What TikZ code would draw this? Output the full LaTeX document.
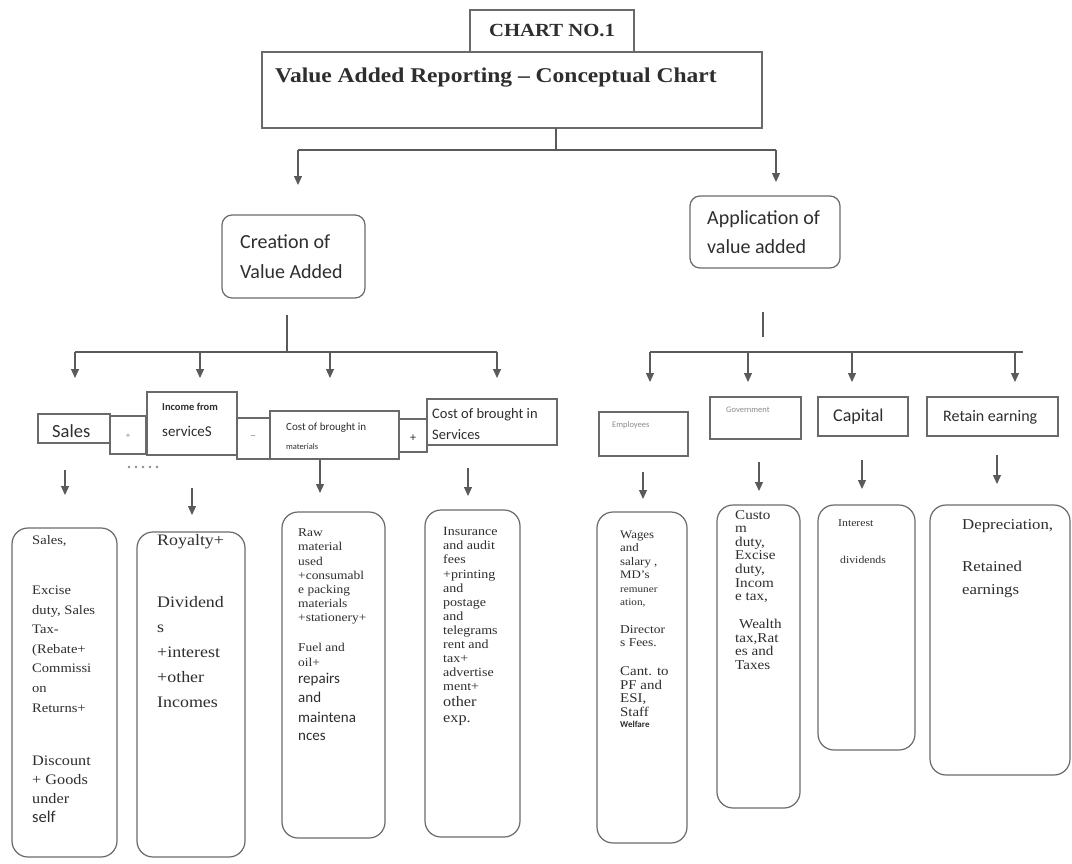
\documentclass[tikz,border=0pt]{standalone}
\usepackage{fontspec}
\setmainfont[FakeStretch=1.12]{Liberation Serif}
\newfontfamily\carl{Carlito}
\usetikzlibrary{arrows.meta}
\newcommand\fsz[2]{\fontsize{#1}{#2}\selectfont}
\definecolor{txt}{HTML}{2E2E2E}
\definecolor{ln}{HTML}{5A5A5A}
\definecolor{bxc}{HTML}{6A6A6A}
\definecolor{faint}{HTML}{8C8C8C}
\newcommand\bx[6]{\node[#1, anchor=north west, minimum width={(#5-#3)*1pt}, minimum height={(#6-#4)*1pt}] (#2) at (#3,#4) {};}
\begin{document}
\begin{tikzpicture}[x=1pt,y=-1pt,
  sq/.style={draw=bxc, line width=1.3pt, inner sep=0, outer sep=0},
  rbox/.style={draw=bxc, line width=1.2pt, rounded corners=16pt, inner sep=0, outer sep=0},
  mbox/.style={draw=bxc, line width=1.2pt, rounded corners=10pt, inner sep=0, outer sep=0},
  tx/.style={anchor=north west, inner sep=0, align=left, text=txt},
  lb/.style={anchor=west, inner sep=0, text=txt},
  conn/.style={draw=ln, line width=1.2pt},
  arr/.style={draw=ln, line width=1.2pt, -{Triangle[width=8pt,length=9pt]}}]
\fill[white] (0,0) rectangle (1072,863);
\useasboundingbox (0,0) rectangle (1072,863);

% ---------- header ----------
\bx{sq}{title}{262}{52}{762}{128}
\bx{sq}{chart}{470}{10}{634}{52}
\node[text=txt, inner sep=0, font=\bfseries\fsz{18.5}{20}] (chartt) at (552,31) {CHART NO.1};
\node[lb, font=\bfseries\fsz{21}{24}] (titlet) at (275,78) {Value Added Reporting \textendash{} Conceptual Chart};

% ---------- level 2 ----------
\bx{mbox}{creation}{222}{215}{365}{298}
\bx{mbox}{application}{690}{196}{840}{268}
\node[tx, font=\carl\fsz{20}{30}] (creationt) at (240,234.5) {Creation of\\Value Added};
\node[tx, font=\carl\fsz{20}{29}] (applicationt) at (707,210.5) {Application of\\value added};

\coordinate (tb) at (556,150);
\coordinate (tl) at (298,150);
\coordinate (tr) at (776,150);
\draw[conn] (title.south -| tb) -- (tb);
\draw[conn] (tl) -- (tr);
\draw[arr, shorten >=30pt] (tl) -- (tl |- creation.north);
\draw[arr, shorten >=14pt] (tr) -- (tr |- application.north);

% ---------- level 3 left ----------
\bx{sq}{sales}{38}{414}{110}{443}
\bx{sq}{plusA}{110}{416}{146}{454}
\bx{sq}{income}{147}{392}{237}{455}
\bx{sq}{minus}{237}{418}{270}{459}
\bx{sq}{costm}{270}{411}{399}{459}
\bx{sq}{plusB}{399}{419}{427}{452}
\bx{sq}{costs}{427}{399}{557}{445}

\node[lb, font=\carl\fsz{18.5}{20}] (salest) at (52,431) {Sales};
\node[text=faint, inner sep=0, font=\carl\fsz{9}{10}] (plusAt) at (128,436) {+};
\node[lb, font=\carl\bfseries\fsz{10.5}{12}] (incomet1) at (162,407) {Income from};
\node[lb, font=\carl\fsz{15}{17}] (incomet2) at (162,431) {serviceS};
\node[text=faint, inner sep=0, font=\carl\fsz{12}{13}] (minust) at (253,438) {\textendash};
\node[lb, font=\carl\fsz{11}{12}] (costmt1) at (286,428) {Cost of brought in};
\node[lb, font=\carl\fsz{8.5}{10}] (costmt2) at (286,447) {materials};
\node[text=txt, inner sep=0, font=\carl\fsz{12}{13}] (plusBt) at (413,438) {+};
\node[lb, font=\carl\fsz{14.5}{17}] (costst1) at (432,415) {Cost of brought in};
\node[lb, font=\carl\fsz{14.5}{17}] (costst2) at (432,435) {Services};

\coordinate (cb) at (287,352);
\coordinate (cl) at (75,352);
\coordinate (cr) at (497,352);
\coordinate (ci) at (200,352);
\coordinate (cm) at (330,352);
\draw[conn, shorten <=17pt] (creation.south -| cb) -- (cb);
\draw[conn] (cl) -- (cr);
\draw[arr, shorten >=36pt] (cl) -- (cl |- sales.north);
\draw[arr, shorten >=14pt] (ci) -- (ci |- income.north);
\draw[arr, shorten >=33pt] (cm) -- (cm |- costm.north);
\draw[arr, shorten >=21pt] (cr) -- (cr |- costs.north);

\foreach \i in {0,...,4} \fill[faint] (129+7*\i,467) circle (1.3pt);

% ---------- level 3 right ----------
\bx{sq}{employees}{599}{412}{688}{456}
\bx{sq}{government}{710}{397}{801}{439}
\bx{sq}{capital}{818}{397}{908}{436}
\bx{sq}{retain}{927}{397}{1058}{436}
\node[lb, text=faint, font=\carl\fsz{8.5}{10}] (employeest) at (612,425) {Employees};
\node[lb, text=faint, font=\carl\fsz{8.5}{10}] (governmentt) at (726,410) {Government};
\node[lb, font=\carl\fsz{18}{20}] (capitalt) at (833,417) {Capital};
\node[lb, font=\carl\fsz{16}{18}] (retaint) at (943,417) {Retain earning};

\coordinate (ab) at (763,352);
\coordinate (al) at (650,352);
\coordinate (ar) at (1023,352);
\coordinate (ag) at (748,352);
\coordinate (ac) at (852,352);
\coordinate (are) at (1015,352);
\draw[conn, shorten <=44pt, shorten >=15pt] (application.south -| ab) -- (ab);
\draw[conn] (al) -- (ar);
\draw[arr, shorten >=30pt] (al) -- (al |- employees.north);
\draw[arr, shorten >=15pt] (ag) -- (ag |- government.north);
\draw[arr, shorten >=15pt] (ac) -- (ac |- capital.north);
\draw[arr, shorten >=15pt] (are) -- (are |- retain.north);

% ---------- level 4 boxes ----------
\bx{rbox}{salesd}{12}{528}{117}{857}
\bx{rbox}{royalty}{137}{532}{245}{857}
\bx{rbox}{raw}{282}{512}{385}{838}
\bx{rbox}{insurance}{425}{510}{520}{837}
\bx{rbox}{wages}{597}{512}{687}{843}
\bx{rbox}{custom}{717}{505}{800}{808}
\bx{rbox}{interest}{818}{505}{915}{750}
\bx{rbox}{retained}{930}{505}{1070}{775}

% ---------- level 4 arrows ----------
\coordinate (x1) at (65,0);
\coordinate (x2) at (192,0);
\coordinate (x3) at (320,0);
\coordinate (x4) at (468,0);
\coordinate (x5) at (643,0);
\coordinate (x6) at (759,0);
\coordinate (x7) at (862,0);
\coordinate (x8) at (997,0);
\draw[arr, shorten <=27pt, shorten >=33pt] (sales.south -| x1) -- (salesd.north -| x1);
\draw[arr, shorten <=33pt, shorten >=17pt] (income.south -| x2) -- (royalty.north -| x2);
\draw[arr, shorten <=1pt, shorten >=19pt] (costm.south -| x3) -- (raw.north -| x3);
\draw[arr, shorten <=23pt, shorten >=14pt] (costs.south -| x4) -- (insurance.north -| x4);
\draw[arr, shorten <=16pt, shorten >=13pt] (employees.south -| x5) -- (wages.north -| x5);
\draw[arr, shorten <=23pt, shorten >=14pt] (government.south -| x6) -- (custom.north -| x6);
\draw[arr, shorten <=24pt, shorten >=16pt] (capital.south -| x7) -- (interest.north -| x7);
\draw[arr, shorten <=19pt, shorten >=21pt] (retain.south -| x8) -- (retained.north -| x8);

% ---------- level 4 texts ----------
\node[tx, font=\fsz{13}{19.6}] (salesdt) at (32,535.2) {Sales,\\[30.4pt]Excise\\duty, Sales\\Tax-\\(Rebate+\\Commissi\\on\\Returns+\\[34pt]{\fsz{14.5}{19}Discount}\\[-0.8pt]{\fsz{14.5}{19}+ Goods}\\[-0.6pt]{\fsz{14.5}{19}under}\\[-0.6pt]{\carl\fsz{16.5}{19}self}};
\node[tx, font=\fsz{16}{25}] (royaltyt) at (157,534) {Royalty+\\[37pt]Dividend\\s\\+interest\\+other\\Incomes};
\node[tx, font=\fsz{12}{14.2}] (rawt) at (298,528.6) {Raw\\material\\used\\+consumabl\\e packing\\materials\\+stationery+\\[15.8pt]Fuel and\\oil+\\[2.8pt]{\carl\fsz{15}{18}repairs}\\[4.8pt]{\carl\fsz{15}{18}and}\\[5.8pt]{\carl\fsz{15}{18}maintena}\\[3.8pt]{\carl\fsz{15}{18}nces}};
\node[tx, font=\fsz{12.5}{14.1}] (insurancet) at (443,527.4) {Insurance\\and audit\\fees\\+printing\\and\\postage\\and\\telegrams\\rent and\\tax+\\advertise\\ment+\\[1.6pt]{\fsz{14.5}{16}other}\\[1.9pt]{\fsz{14.5}{16}exp.}};
\node[tx, font=\fsz{11.5}{13.4}] (wagest) at (620,530.7) {Wages\\and\\salary ,\\MD’s\\{\fsz{10}{12}remuner}\\{\fsz{10}{12}ation,}\\[14.6pt]{\fsz{12}{13}Director}\\[-0.4pt]{\fsz{12}{13}s Fees.}\\[16pt]{\fsz{13.3}{13.4}Cant. to}\\{\fsz{13.3}{13.4}PF and}\\{\fsz{13.3}{13.4}ESI,}\\{\fsz{13.3}{13.4}Staff}\\[-1.8pt]{\carl\bfseries\fsz{9}{10}Welfare}};
\node[tx, font=\fsz{13.5}{13.6}] (customt) at (735,510) {Custo\\m\\duty,\\Excise\\duty,\\Incom\\e tax,\\[14.3pt]\hspace{4pt}Wealth\\tax,Rat\\es and\\Taxes};
\node[tx, font=\fsz{10.5}{12.6}] (interestt) at (838,519) {Interest\\[24.4pt]\hspace{2pt}dividends};
\node[tx, font=\fsz{15}{23}] (retainedt) at (962,519.5) {Depreciation,\\[19pt]Retained\\earnings};
\end{tikzpicture}
\end{document}
